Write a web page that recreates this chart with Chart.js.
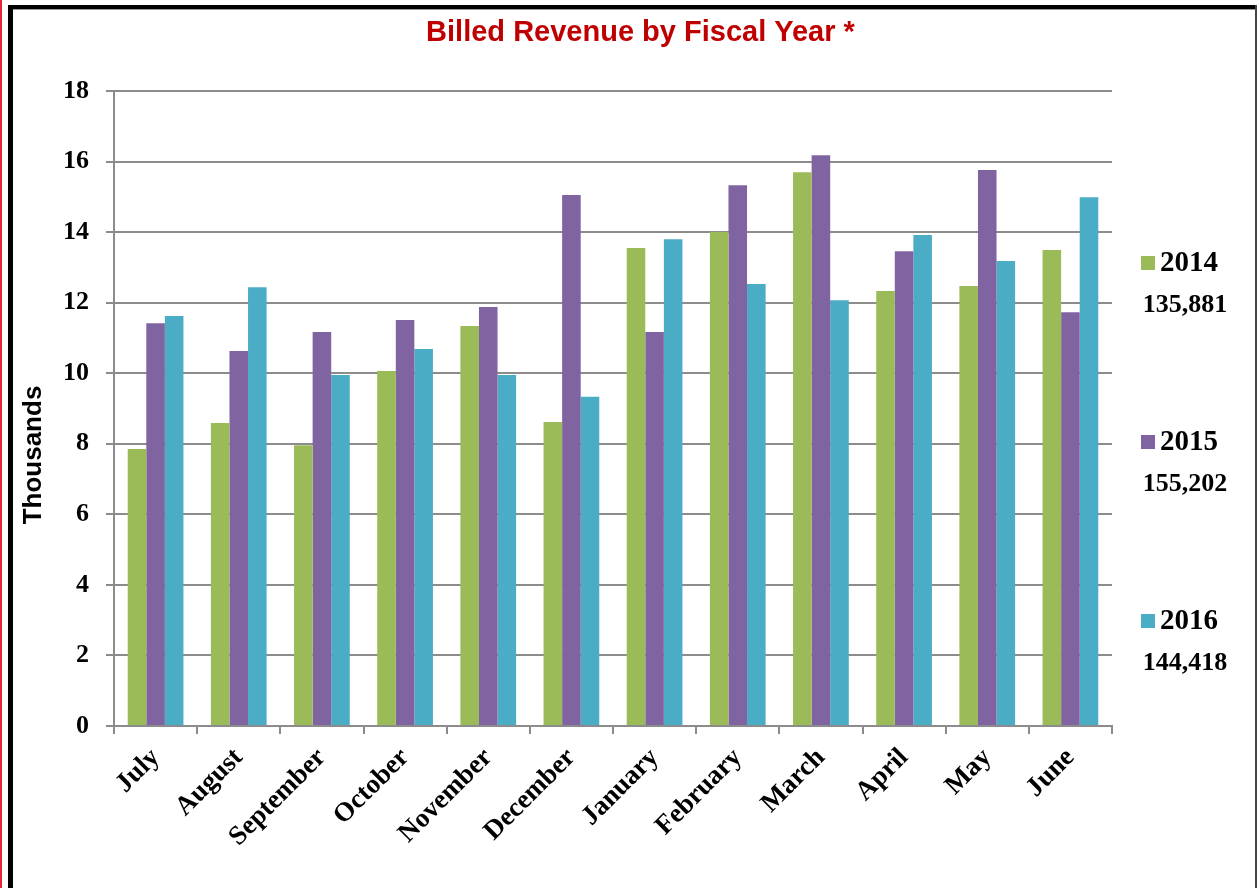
<!DOCTYPE html>
<html lang="en">
<head>
  <meta charset="UTF-8">
  <title>Billed Revenue by Fiscal Year</title>
  <script src="https://cdn.jsdelivr.net/npm/chart.js"></script>
  <style>
    body { margin: 0; background: #fff; }
    #wrap { position: relative; width: 1257px; height: 888px; overflow: hidden; }
    #chartCanvas { position: absolute; left: 0; top: 0; }
    .edge { position: absolute; }
  </style>
</head>
<body>
  <div id="wrap">
    <canvas id="chartCanvas" width="1257" height="888"></canvas>
    <div class="edge" style="left:0;top:0;width:2px;height:888px;background:#e3262f"></div>
    <div class="edge" style="left:8px;top:5px;width:5px;height:883px;background:#000"></div>
    <div class="edge" style="left:8px;top:5px;width:1249px;height:4px;background:#000"></div>
    <div class="edge" style="left:13px;top:9px;width:1242px;height:1px;background:#9a9a9a"></div>
    <div class="edge" style="left:1255px;top:5px;width:2px;height:883px;background:#444"></div>
  </div>

  <script>
    const months = ['July', 'August', 'September', 'October', 'November', 'December',
                    'January', 'February', 'March', 'April', 'May', 'June'];
    const years = ['2014', '2015', '2016'];

    // monthly billed revenue, in thousands
    const rev2014 = [7.85, 8.59, 7.96, 10.06, 11.34, 8.62, 13.55, 14.00, 15.70, 12.33, 12.47, 13.49];
    const rev2015 = [11.42, 10.63, 11.17, 11.51, 11.88, 15.05, 11.17, 15.33, 16.18, 13.46, 15.76, 11.73];
    const rev2016 = [11.62, 12.44, 9.95, 10.69, 9.95, 9.33, 13.80, 12.53, 12.07, 13.92, 13.18, 14.99];

    // fiscal year totals shown beside the legend
    const yearTotals = ['135,881', '155,202', '144,418'];

    const colors = ['#9BBB59', '#8064A2', '#4BACC6'];
    const serif = "'Liberation Serif', 'Times New Roman', serif";
    const sans = "'Liberation Sans', Arial, sans-serif";
    const titleText = 'Billed Revenue by Fiscal Year *';
    const axisTitle = 'Thousands';

    // title centred on the frame, the axis caption, and the year legend with totals
    const extras = {
      id: 'extras',
      afterDraw(chart) {
        const ctx = chart.ctx;
        const area = chart.chartArea;
        ctx.save();
        ctx.fillStyle = '#C00000';
        ctx.font = 'bold 29px ' + sans;
        ctx.textAlign = 'center';
        ctx.textBaseline = 'middle';
        ctx.fillText(titleText, chart.width / 2 + 12, 33);

        ctx.save();
        ctx.translate(34, 455);
        ctx.rotate(-Math.PI / 2);
        ctx.fillStyle = '#000';
        ctx.font = 'bold 26px ' + sans;
        ctx.fillText(axisTitle, 0, 0);
        ctx.restore();

        chart.data.datasets.forEach((ds, i) => {
          const y = area.top + 172 + i * 179;
          const x = area.right + 29;
          ctx.fillStyle = ds.backgroundColor;
          ctx.fillRect(x, y - 7, 14, 14);
          ctx.fillStyle = '#000';
          ctx.textBaseline = 'middle';
          ctx.textAlign = 'left';
          ctx.font = 'bold 29px ' + serif;
          ctx.fillText(ds.label, x + 19, y + 1);
          ctx.textAlign = 'center';
          ctx.font = 'bold 26px ' + serif;
          ctx.fillText(yearTotals[i], x + 44, y + 42);
        });
        ctx.restore();
      }
    };

    const ctx = document.getElementById('chartCanvas').getContext('2d');
    new Chart(ctx, {
      type: 'bar',
      data: {
        labels: months,
        datasets: [
          { label: years[0], data: rev2014, backgroundColor: colors[0] },
          { label: years[1], data: rev2015, backgroundColor: colors[1] },
          { label: years[2], data: rev2016, backgroundColor: colors[2] }
        ]
      },
      options: {
        responsive: false,
        animation: false,
        devicePixelRatio: 1,
        layout: { padding: { left: 14, right: 145, top: 91, bottom: 0 } },
        datasets: {
          bar: { categoryPercentage: 0.67, barPercentage: 1.0, borderWidth: 0 }
        },
        plugins: {
          legend: { display: false },
          tooltip: { enabled: false },
          title: { display: false }
        },
        scales: {
          x: {
            afterFit(scale) { scale.height = 162; },
            grid: {
              drawOnChartArea: false,
              drawTicks: true,
              tickLength: 8,
              color: '#8c8c8c',
              lineWidth: 2
            },
            border: { color: '#8c8c8c', width: 2 },
            ticks: {
              color: '#000',
              font: { family: serif, size: 27, weight: 'bold' },
              minRotation: 45,
              maxRotation: 45,
              padding: 8
            }
          },
          y: {
            min: 0,
            max: 18,
            afterFit(scale) { scale.width = 100; },
            grid: { color: '#8c8c8c', lineWidth: 2, tickLength: 8 },
            border: { color: '#8c8c8c', width: 2 },
            ticks: {
              stepSize: 2,
              color: '#000',
              padding: 17,
              font: { family: serif, size: 26, weight: 'bold' }
            }
          }
        }
      },
      plugins: [extras]
    });
  </script>
</body>
</html>
